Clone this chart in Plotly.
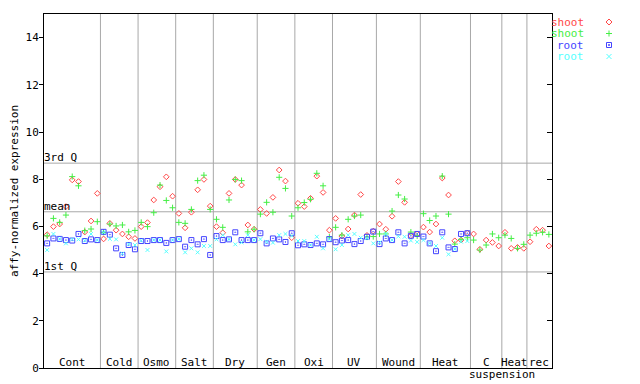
import plotly.graph_objects as go

# ---- data -------------------------------------------------------------
groups = ["Cont", "Cold", "Osmo", "Salt", "Dry", "Gen", "Oxi", "UV",
          "Wound", "Heat", "C", "Heat", "rec"]
group_sizes = [9, 6, 6, 6, 7, 6, 6, 7, 7, 8, 5, 4, 4]

shoot_rep1 = [5.65, 5.99, 6.10, 6.84, 7.97, 7.90, 5.76, 6.23, 7.40,
              5.47, 6.13, 5.84, 5.68, 5.56, 5.49,
              5.99, 6.16, 7.12, 7.68, 8.10, 7.28,
              6.55, 5.94, 6.60, 7.55, 7.99, 6.86,
              5.99, 5.73, 7.40, 7.99, 7.75, 6.06, 5.88,
              6.72, 6.55, 7.23, 8.39, 7.92, 5.52,
              6.98, 6.84, 7.19, 8.13, 7.44, 5.84,
              6.34, 5.59, 5.89, 6.48, 7.35, 5.62, 5.80,
              6.10, 5.88, 6.43, 7.90, 7.02, 5.60, 5.68,
              5.97, 5.76, 6.10, 8.05, 7.33, 5.39, 5.42, 5.72,
              5.68, 5.03, 5.42, 5.32, 5.17,
              5.75, 5.07, 5.11, 5.07,
              5.35, 5.88, 5.84, 5.17]
shoot_rep2 = [5.60, 6.34, 6.17, 6.48, 8.11, 7.72, 5.82, 5.89, 6.20,
              5.75, 6.10, 6.02, 6.06, 5.77, 5.83,
              6.17, 5.99, 6.58, 7.75, 7.10, 6.79,
              6.17, 6.13, 6.72, 7.94, 8.17, 6.72,
              6.30, 5.96, 7.12, 7.99, 7.94, 5.77, 5.88,
              6.52, 7.02, 6.60, 8.08, 7.61, 6.44,
              6.79, 7.01, 7.15, 8.25, 7.72, 5.55,
              5.96, 5.63, 6.30, 6.44, 6.48, 5.55, 5.57,
              5.68, 5.68, 6.65, 7.33, 7.16, 5.76, 5.60,
              6.54, 6.25, 6.44, 8.13, 6.52, 5.25, 5.45, 5.52,
              5.42, 5.00, 5.21, 5.68, 5.52,
              5.63, 5.49, 5.07, 5.24,
              5.63, 5.71, 5.75, 5.66]
root_rep1 = [5.28, 5.49, 5.47, 5.42, 5.40, 5.68, 5.38, 5.45, 5.42,
             5.77, 5.65, 5.07, 4.79, 5.21, 5.03,
             5.38, 5.38, 5.42, 5.42, 5.30, 5.42,
             5.46, 5.14, 5.42, 5.24, 5.46, 4.79,
             5.59, 5.42, 5.45, 5.75, 5.42, 5.42, 5.42,
             5.71, 5.28, 5.49, 5.45, 5.34, 5.71,
             5.20, 5.24, 5.21, 5.28, 5.24, 5.46,
             5.33, 5.40, 5.42, 5.25, 5.38, 5.56, 5.78,
             5.25, 5.49, 5.42, 5.75, 5.28, 5.60, 5.68,
             5.57, 5.28, 4.95, 5.75, 5.11, 5.04, 5.68, 5.71,
             None, None, None, None, None,
             None, None, None, None,
             None, None, None, None]
root_rep2 = [5.00, 5.68, 5.47, 5.28, 5.45, 5.45, 5.40, 5.68, 5.42,
             5.75, 5.47, 5.45, 4.85, 5.25, 5.21,
             5.40, 5.00, 5.42, 5.42, 4.94, 5.42,
             5.46, 4.90, 5.07, 4.90, 5.17, 5.17,
             5.45, 5.63, 5.45, 5.24, 5.32, 5.63, 5.42,
             5.46, 5.35, 5.31, 5.63, 5.68, 5.60,
             5.38, 5.38, 5.21, 5.56, 5.07, 5.46,
             5.03, 5.21, 5.63, 5.68, 5.52, 5.50, 5.28,
             5.32, 5.68, 5.42, 5.58, 5.56, 5.40, 5.34,
             5.42, 5.28, 5.17, 5.52, 4.82, 5.04, 5.35, 5.38,
             None, None, None, None, None,
             None, None, None, None,
             None, None, None, None]

q1_value = 4.07
mean_value = 6.62
q3_value = 8.68
y_ticks = [0, 2, 4, 6, 8, 10, 12, 14]

# ---- styling ----------------------------------------------------------
FONT = "DejaVu Sans Mono"
RED, GREEN, BLUE, CYAN = "#ff4848", "#44ee44", "#4444ff", "#55ffff"
GRID = "#a8a8a8"

n = sum(group_sizes)
xs = [i + 0.5 for i in range(n)]

series = [
    ("shoot", shoot_rep1, RED, "diamond-open", 4.4),
    ("shoot", shoot_rep2, GREEN, "cross-thin-open", 4.4),
    ("root", root_rep1, BLUE, "square-open-dot", 5),
    ("root", root_rep2, CYAN, "x-thin-open", 3.8),
]

fig = go.Figure()
for name, vals, col, sym, size in series:
    fig.add_trace(go.Scatter(
        x=xs, y=vals, mode="markers", name=name, showlegend=False,
        marker=dict(symbol=sym, size=size, color=col,
                    line=dict(width=1, color=col)),
        hoverinfo="skip"))

# invisible trace to activate the right-hand tick axis
fig.add_trace(go.Scatter(x=[None], y=[None], yaxis="y2", showlegend=False))

shapes = []
bounds = [0]
for s in group_sizes:
    bounds.append(bounds[-1] + s)
for b in bounds[1:-1]:
    shapes.append(dict(type="line", xref="x", yref="paper", x0=b, x1=b,
                       y0=0, y1=1, line=dict(color=GRID, width=1), layer="below"))
for v in (q1_value, mean_value, q3_value):
    shapes.append(dict(type="line", xref="paper", yref="y", x0=0, x1=1,
                       y0=v, y1=v, line=dict(color=GRID, width=1), layer="below"))

annotations = []
for lbl, v in (("1st Q", q1_value), ("mean", mean_value), ("3rd Q", q3_value)):
    annotations.append(dict(x=0, y=v, xref="paper", yref="y", text=lbl,
                            showarrow=False, xanchor="left", yanchor="bottom",
                            xshift=-2, yshift=-3,
                            font=dict(family=FONT, size=11, color="black")))
for k, g in enumerate(groups):
    cx = (bounds[k] + bounds[k + 1]) / 2
    annotations.append(dict(x=cx, y=0, xref="x", yref="y", text=g,
                            showarrow=False, xanchor="center", yanchor="bottom",
                            yshift=-3,
                            font=dict(family=FONT, size=11, color="black")))
# second line of the "C suspension" label
c_idx = 10
annotations.append(dict(x=bounds[c_idx + 1], y=0, xref="x", yref="y",
                        text="suspension", showarrow=False, xanchor="center",
                        yanchor="top", yshift=2,
                        font=dict(family=FONT, size=11, color="black")))

# custom legend: text then marker, top right outside the plot
legend_rows_px = [22, 33.5, 45, 56.5]
plot_top, plot_h = 14, 354
plot_left, plot_w = 44, 508
mx = (609 - plot_left) / plot_w
for (name, vals, col, sym, size), ypx in zip(series, legend_rows_px):
    yp = 1 - (ypx - plot_top) / plot_h
    annotations.append(dict(x=(586 - plot_left) / plot_w, y=yp, xref="paper",
                            yref="paper", text=name, showarrow=False,
                            xanchor="right", yanchor="middle",
                            font=dict(family=FONT, size=11, color=col)))
    common = dict(xref="paper", yref="paper", xsizemode="pixel",
                  ysizemode="pixel", xanchor=mx, yanchor=yp,
                  line=dict(color=col, width=1))
    if sym.startswith("diamond"):
        shapes.append(dict(type="path", path="M0,3L3,0L0,-3L-3,0Z", **common))
    elif sym.startswith("cross"):
        shapes.append(dict(type="path", path="M-3,0H3M0,-3V3", **common))
    elif sym.startswith("square"):
        shapes.append(dict(type="path", path="M-2.5,-2.5H2.5V2.5H-2.5Z", **common))
        shapes.append(dict(type="path", path="M-0.5,-0.5H0.5V0.5H-0.5Z", **common))
    else:
        shapes.append(dict(type="path", path="M-2.5,-2.5L2.5,2.5M-2.5,2.5L2.5,-2.5",
                           **common))

fig.update_layout(
    width=640, height=384,
    margin=dict(l=44, r=88, t=14, b=16, autoexpand=False),
    paper_bgcolor="white", plot_bgcolor="white",
    font=dict(family=FONT, size=11, color="black"),
    showlegend=False,
    shapes=shapes, annotations=annotations,
    xaxis=dict(range=[0, n], showgrid=False, zeroline=False,
               showticklabels=False, ticks="", showline=True,
               linecolor="black", linewidth=1, mirror=True, fixedrange=True,
               automargin=False),
    yaxis=dict(range=[0, 15], tickvals=y_ticks, ticks="outside", ticklen=4,
               tickcolor="black", showline=True, linecolor="black",
               linewidth=1, mirror=True, showgrid=False, zeroline=False,
               automargin=False, ticklabelstandoff=-2,
               title=dict(text="affy-normalized expression", standoff=4,
                          font=dict(family=FONT, size=11)),
               tickfont=dict(family=FONT, size=11)),
    yaxis2=dict(range=[0, 15], overlaying="y", side="right",
                tickvals=y_ticks, ticks="inside", ticklen=5,
                tickcolor="black", showticklabels=False, showline=False,
                showgrid=False, zeroline=False, automargin=False),
)

fig.write_html("out.html",
               config={"displayModeBar": False, "staticPlot": True},
               post_script="document.body.style.margin='0';"
                           "document.body.style.overflow='hidden';")
